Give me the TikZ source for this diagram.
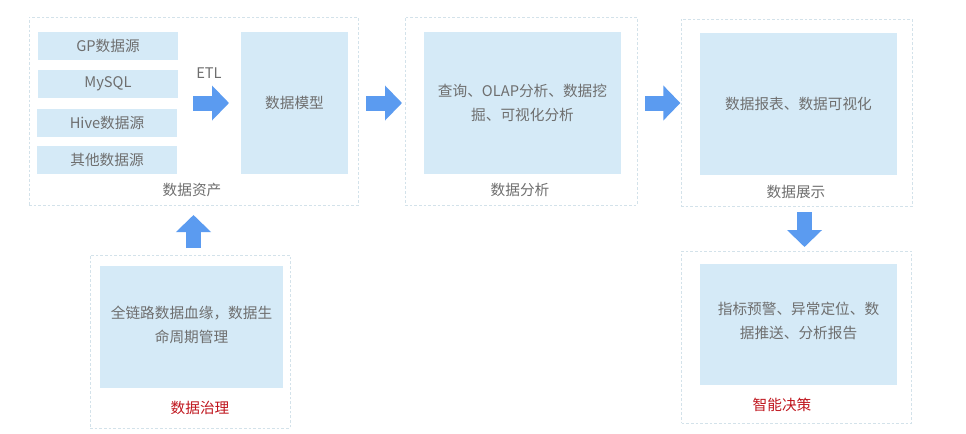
\documentclass[tikz,border=0pt]{standalone}
\usepackage{fontspec}
\setmainfont{Noto Sans CJK SC}
\usetikzlibrary{arrows.meta}
\definecolor{boxfill}{HTML}{D5EAF7}
\definecolor{framecol}{HTML}{D3E2EA}
\definecolor{arrowblue}{HTML}{5B9BF0}
\definecolor{textgray}{HTML}{6E6E6E}
\definecolor{labelred}{HTML}{C0161E}
\tikzset{
  outerbox/.style={draw=framecol, dash pattern=on 2pt off 1.5pt, line width=0.5pt, inner sep=0pt, outer sep=0pt},
  inbox/.style={fill=boxfill, inner sep=0pt, outer sep=0pt, text=textgray, align=center, font=\fontsize{11}{18}\selectfont},
  caption/.style={text=textgray, font=\fontsize{11}{14}\selectfont, inner sep=0pt},
  bigarrow/.style={arrowblue, line width=11.25pt, -{Triangle[width=25.5pt, length=12.75pt]}}
}

\begin{document}
\begin{tikzpicture}[x=0.75pt, y=-0.75pt]
                \fill [white] (0, 0) rectangle (966, 433);
                \useasboundingbox (0, 0) rectangle (966, 433);
                \node [outerbox, minimum width=246.75pt, minimum height=141pt] (asset) at (193.5, 111) {};
                \node [outerbox, minimum width=174pt, minimum height=141pt] (analysis) at (521, 111) {};
                \node [outerbox, minimum width=173.25pt, minimum height=140.25pt] (display) at (796.5, 112.5) {};
                \node [outerbox, minimum width=172.5pt, minimum height=129pt] (decision) at (796.5, 337) {};
                \node [outerbox, minimum width=150pt, minimum height=129.75pt] (gov) at (190, 341.5) {};
                \node [inbox, minimum width=105pt, minimum height=21pt] (gp) at (108, 46) {GP数据源};
                \node [inbox, minimum width=105pt, minimum height=21pt] (mysql) at (108, 84) {MySQL};
                \node [inbox, minimum width=105pt, minimum height=21pt] (hive) at (107, 123) {Hive数据源};
                \node [inbox, minimum width=105pt, minimum height=21pt] (other) at (107, 160) {其他数据源};
                \node [inbox, minimum width=80.25pt, minimum height=106.5pt] (model) at (294.5, 103) {数据模型};
                \node [inbox, minimum width=147.75pt, minimum height=106.5pt] (query) at (522.5, 103) {查询、OLAP分析、数据挖\\掘、可视化分析};
                \node [inbox, minimum width=147.75pt, minimum height=106.5pt] (report) at (798.5, 104) {数据报表、数据可视化};
                \node [inbox, minimum width=147.75pt, minimum height=90.75pt, text depth=6pt] (alert) at (798.5, 324.5) {指标预警、异常定位、数\\据推送、分析报告};
                \node [inbox, minimum width=137.25pt, minimum height=91.5pt, text depth=4pt] (lineage) at (191.5, 327) {全链路数据血缘，数据生\\命周期管理};
                \node [caption] (etl) at (209, 73) {ETL};
                \node [caption] (assetcap) at (192, 190) {数据资产};
                \node [caption] (analysiscap) at (520, 190) {数据分析};
                \node [caption] (displaycap) at (796, 192) {数据展示};
                \node [caption, text=labelred] (decisioncap) at (782, 405) {智能决策};
                \node [caption, text=labelred] (govcap) at (200, 408) {数据治理};
                \draw [bigarrow, shorten <=11.25pt, shorten >=9pt] (model.west -| mysql.east) -- (model.west);
                \draw [bigarrow, shorten <=6pt, shorten >=2.25pt] (model.east -| asset.east) -- (model.east -| analysis.west);
                \draw [bigarrow, shorten <=6pt, shorten >=0.5pt] (model.east -| analysis.east) -- (model.east -| display.west);
                \draw [bigarrow, shorten <=4.5pt, shorten >=3pt] ([xshift=6pt]display.south) -- ([xshift=6pt]display.south |- decision.north);
                \draw [bigarrow, shorten <=5.25pt, shorten >=7.5pt] (gov.north -| asset.south) -- (asset.south);
            \end{tikzpicture}
\end{document}
